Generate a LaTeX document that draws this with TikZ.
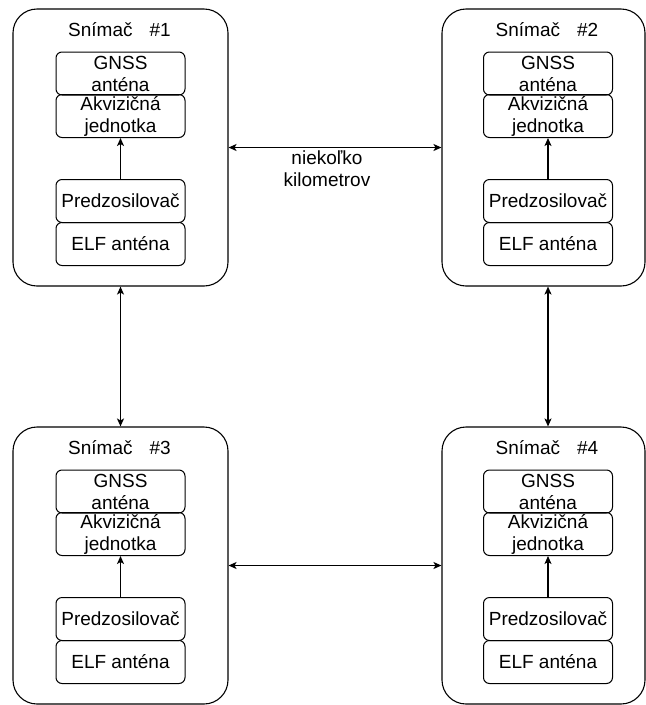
\documentclass[tikz,border=0pt]{standalone}
\usepackage{fontspec}
\setmainfont{Liberation Sans}
\usetikzlibrary{arrows.meta}
\tikzset{
  outerbox/.style={draw, rounded corners=24pt, line width=1.1pt, minimum height=277pt, inner sep=0pt},
  innerbox/.style={draw, rounded corners=6pt, line width=1pt, minimum width=129pt, minimum height=43pt, inner sep=0pt, align=center, font=\fontsize{19}{22}\selectfont},
  titletext/.style={font=\fontsize{19}{22}\selectfont, inner sep=0pt},
  arr/.style={line width=1.4pt, -{Stealth[length=8pt,width=7pt,inset=2pt]}},
  darr/.style={line width=1.4pt, {Stealth[length=8pt,width=7pt,inset=2pt]}-{Stealth[length=8pt,width=7pt,inset=2pt]}}
}
\newcommand\snimac[6]{%
  \node[outerbox, minimum width=#4] (#1) at ({#2},{#3+138.5}) {};
  \node[titletext] (#1t) at ({#5-1},{#3+21}) {Snímač\hspace{17pt}\##6};
  \node[innerbox] (#1g) at ({#5},{#3+64.5}) {GNSS\\anténa};
  \node[innerbox] (#1a) at ({#5},{#3+107}) {Akvizičná\\jednotka};
  \node[innerbox] (#1p) at ({#5},{#3+192}) {Predzosilovač};
  \node[innerbox] (#1e) at ({#5},{#3+235}) {ELF anténa};
  \draw[arr] (#1p.north) -- (#1a.south);
}
\begin{document}
\begin{tikzpicture}[x=1pt,y=-1pt]
\useasboundingbox[fill=white] (0,0) rectangle (646,705);
\snimac{s1}{120.5}{9}{215pt}{120.5}{1}
\snimac{s2}{543.5}{9}{203pt}{548}{2}
\snimac{s3}{120.5}{427}{215pt}{120.5}{3}
\snimac{s4}{543.5}{427}{203pt}{548}{4}
\draw[darr] (s1.east) -- (s2.west);
\draw[darr] (s1.south) -- (s3.north);
\draw[darr] ([xshift=4.5pt]s2.south) -- ([xshift=4.5pt]s4.north);
\draw[darr] (s3.east) -- (s4.west);
\node[titletext, align=center] (lbl) at (327,169) {niekoľko\\kilometrov};
\end{tikzpicture}
\end{document}
